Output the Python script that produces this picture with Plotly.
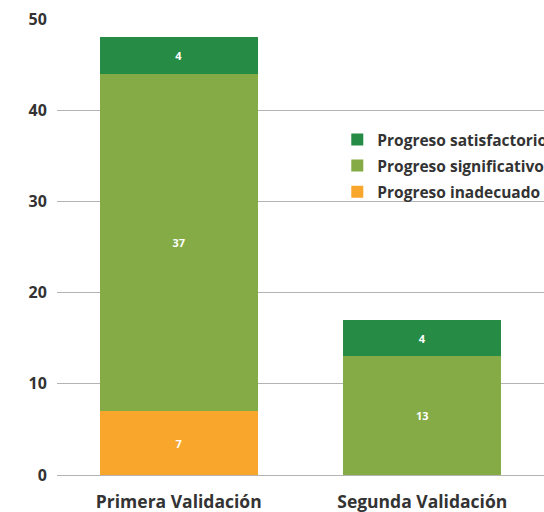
import plotly.graph_objects as go

categories = ['Primera Validación', 'Segunda Validación']
inadecuado = [7, 0]
significativo = [37, 13]
satisfactorio = [4, 4]
y_ticks = [0, 10, 20, 30, 40, 50]

# (name, values, color, legend rank) - stacked bottom to top
series = [
    ('Progreso inadecuado', inadecuado, '#F9A62C', 3),
    ('Progreso significativo', significativo, '#84AB45', 2),
    ('Progreso satisfactorio', satisfactorio, '#268B45', 1),
]

fig = go.Figure()
for name, values, color, rank in series:
    fig.add_trace(go.Bar(
        x=categories, y=values, name=name, legendgroup=name, legendrank=rank,
        marker=dict(color=color, line=dict(width=0)),
        text=[str(v) if v else '' for v in values],
        textposition='inside', insidetextanchor='middle',
        textfont=dict(color='white', size=11, family='Open Sans', weight='bold'),
        hoverinfo='skip',
    ))

fig.update_layout(
    barmode='stack', bargap=0.35,
    width=544, height=512,
    margin=dict(l=57, r=0, t=19, b=37, autoexpand=False),
    plot_bgcolor='white', paper_bgcolor='white',
    font=dict(family='Open Sans', color='#333333'),
    showlegend=True,
    legend=dict(
        x=0.62, y=0.76, xref='container', yref='container',
        xanchor='left', yanchor='top',
        traceorder='grouped', tracegroupgap=3,
        bgcolor='rgba(0,0,0,0)',
        font=dict(size=15.5, color='#333333', family='Open Sans', weight='bold'),
    ),
    uniformtext=dict(minsize=8, mode='show'),
)
fig.update_yaxes(
    range=[0, 50], tickvals=y_ticks, showgrid=True, gridcolor='#b3b3b3', gridwidth=1,
    zeroline=True, zerolinecolor='#b3b3b3', zerolinewidth=1, showline=False,
    ticks='outside', ticklen=6, tickcolor='rgba(0,0,0,0)', automargin=False,
    tickfont=dict(size=16, color='#333333', family='Open Sans', weight='bold'),
)
fig.update_xaxes(
    showgrid=False, showline=False, ticks='outside', ticklen=11, tickcolor='rgba(0,0,0,0)',
    automargin=False,
    tickfont=dict(size=17.5, color='#333333', family='Open Sans', weight='bold'),
)

fig.write_html('out.html', config={'displayModeBar': False},
               post_script="document.body.style.margin='0';")
